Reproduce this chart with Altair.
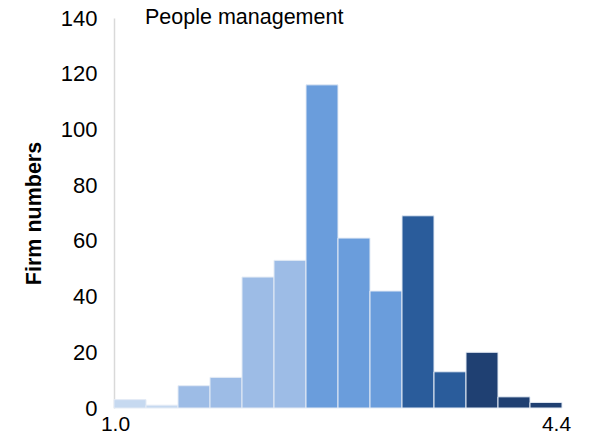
import altair as alt
import pandas as pd

counts = [3, 1, 8, 11, 47, 53, 116, 61, 42, 69, 13, 20, 4, 2]
groups = ["g1", "g1", "g2", "g2", "g2", "g2", "g3", "g3", "g3", "g4", "g4", "g5", "g5", "g5"]
group_names = ["g1", "g2", "g3", "g4", "g5"]
group_colors = ["#c6d9f0", "#9dbce6", "#6a9ddc", "#2a5c9b", "#1f4072"]
x_tick_values = [0, 14]
x_tick_labels = ["1.0", "4.4"]

df = pd.DataFrame({
    "bin": list(range(len(counts))),
    "count": counts,
    "group": groups,
})
df["bin_end"] = df["bin"] + 1

label_expr = " : ".join(
    f"datum.value == {v} ? '{l}'" for v, l in zip(x_tick_values, x_tick_labels)
) + " : ''"

FONT = "Liberation Sans"

chart = alt.Chart(df).mark_bar(
    stroke="#e4ebf5", strokeWidth=1
).encode(
    x=alt.X("bin:Q", scale=alt.Scale(domain=[0, 14], nice=False, zero=False),
            axis=alt.Axis(values=x_tick_values, labelExpr=label_expr, title=None,
                          domain=False, ticks=False, grid=False, labelFontSize=21,
                          labelFont=FONT, labelColor="#000000", labelPadding=5,
                          labelFlush=False,
                          labelOffset={"condition": {"test": "datum.value == 14", "value": -6},
                                       "value": 1})),
    x2="bin_end:Q",
    y=alt.Y("count:Q", scale=alt.Scale(domain=[0, 140], nice=False),
            axis=alt.Axis(values=list(range(0, 141, 20)), title="Firm numbers",
                          domain=True, domainColor="#d9d9d9", domainWidth=1.5,
                          ticks=False, tickSize=0, grid=False, labelFontSize=22,
                          labelFont=FONT, labelColor="#000000", labelPadding=17,
                          titleFont=FONT, titleFontSize=21.5, titleFontWeight="bold",
                          titleColor="#000000", titleX=-80, titleBaseline="middle")),
    y2=alt.datum(0),
    color=alt.Color("group:N", scale=alt.Scale(domain=group_names, range=group_colors),
                    legend=None),
).properties(
    width=448,
    height=390,
    padding={"left": 106, "top": 10, "right": 22, "bottom": 26},
    autosize=alt.AutoSizeParams(type="none"),
    title=alt.TitleParams("People management", anchor="start", frame="group",
                          dx=31, offset=-21, fontSize=21.5, fontWeight="normal",
                          font=FONT, color="#000000"),
).configure_view(stroke=None)

chart.save("out.html", embed_options={"renderer": "svg", "actions": False})
